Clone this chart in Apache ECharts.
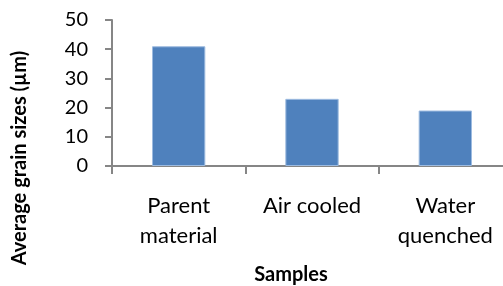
<!DOCTYPE html>
<html><head><meta charset="utf-8">
<script src="https://cdn.jsdelivr.net/npm/echarts@6/dist/echarts.min.js"></script>
<style>html,body{margin:0;padding:0;background:#fff;overflow:hidden}#c{width:520px;height:286px}</style>
</head><body><div id="c"></div>
<script>
const categories = ['Parent\nmaterial', 'Air cooled', 'Water\nquenched'];
const grainSizes = [41, 23, 19];
const yTicks = [0, 10, 20, 30, 40, 50];
const xTitle = 'Samples';
const yTitle = 'Average grain sizes (µm)';

const FONT = 'Lato';
const chart = echarts.init(document.getElementById('c'), null, {renderer: 'canvas'});
chart.setOption({
  animation: false,
  grid: {left: 112, width: 400, top: 20, height: 146, containLabel: false},
  xAxis: {
    type: 'category', data: categories,
    axisLine: {lineStyle: {color: '#868686', width: 2}},
    axisTick: {show: true, length: 8, lineStyle: {color: '#868686', width: 2}},
    axisLabel: {color: '#000', fontFamily: FONT, fontSize: 22, lineHeight: 30, margin: 25, interval: 0}
  },
  yAxis: {
    type: 'value', min: yTicks[0], max: yTicks[yTicks.length - 1], interval: 10,
    axisLine: {show: true, lineStyle: {color: '#868686', width: 2}},
    axisTick: {show: true, length: 7, lineStyle: {color: '#868686', width: 2}},
    splitLine: {show: false},
    axisLabel: {color: '#000', fontFamily: FONT, fontSize: 20, margin: 24}
  },
  graphic: [
    {type: 'text', x: 291, y: 275, style: {text: xTitle, font: 'bold 20px ' + FONT, fill: '#000', align: 'center', verticalAlign: 'middle'}},
    {type: 'text', x: 20, y: 158, rotation: Math.PI / 2, style: {text: yTitle, font: 'bold 20px ' + FONT, fill: '#000', align: 'center', verticalAlign: 'middle'}}
  ],
  series: [{
    type: 'bar', data: grainSizes, barWidth: '40%',
    itemStyle: {color: '#4F81BD', borderColor: '#9dbbe0', borderWidth: 1}
  }]
});
</script></body></html>
